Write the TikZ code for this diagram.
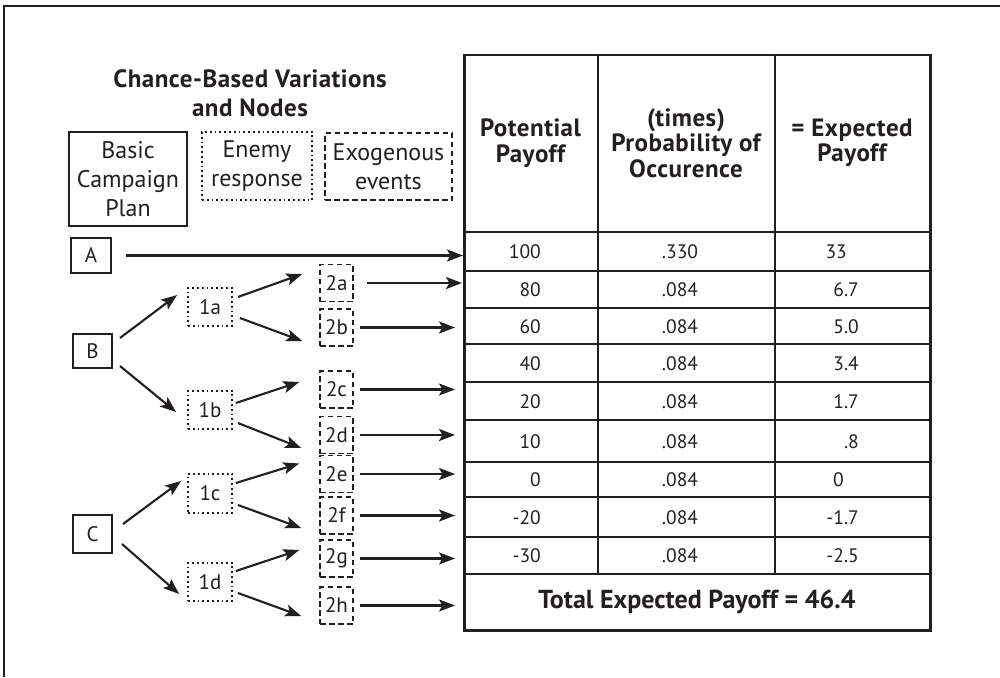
\documentclass[tikz,border=0pt]{standalone}
\usepackage{fontspec}
\setmainfont{PT Sans}
\usetikzlibrary{arrows.meta,calc}
\definecolor{ink}{HTML}{231F20}
\newcommand\bodyfnt{\fontsize{24}{29}\selectfont}
\newcommand\lblfnt{\fontsize{21}{24}\selectfont}
\newcommand\numfnt{\fontsize{19.5}{24}\selectfont}
\newcommand\hdrfnt{\fontsize{25}{25.5}\selectfont\bfseries\addfontfeatures{LetterSpace=2}}
\newcommand\ttlfnt{\fontsize{25}{29}\selectfont\bfseries\addfontfeatures{LetterSpace=2}}
\newcommand\totfnt{\fontsize{26}{30}\selectfont\bfseries}
\begin{document}
\begin{tikzpicture}[x=1pt,y=-1pt,
  every node/.style={text=ink, inner sep=0pt},
  solidbox/.style={draw=ink, line width=2pt},
  dotbox/.style={draw=ink, line width=1.8pt, dash pattern=on 1.8pt off 3pt},
  dashbox/.style={draw=ink, line width=1.6pt, dash pattern=on 5.5pt off 3.5pt},
  tbox/.style={font=\lblfnt},
  arr/.style={draw=ink, line width=2.1pt, -{Stealth[length=16pt,width=12pt,inset=3.5pt]}},
  tline/.style={draw=ink, line width=2.5pt},
  num/.style={font=\numfnt, text height=14pt, text depth=0pt},
  hdr/.style={font=\hdrfnt, align=center}]
\useasboundingbox (0,0) rectangle (1000,677);
% frame
\draw[ink, line width=2.2pt] (4,677) -- (4,6) -- (1000,6);
% title and legend
\node[font=\ttlfnt, align=center] (title) at (250,93) {Chance-Based Variations\\and Nodes};
\node[solidbox, minimum width=118pt, minimum height=94pt, font=\bodyfnt, align=center] (legA) at (128,179) {Basic\\Campaign\\Plan};
\node[dotbox, minimum width=110pt, minimum height=68pt, font=\bodyfnt, align=center] (legB) at (257,166) {Enemy\\response};
\node[dashbox, minimum width=127pt, minimum height=67pt, font=\bodyfnt, align=center] (legC) at (388.5,166.5) {Exogenous\\events};
% table
\node[tline, minimum width=466pt, minimum height=575pt, anchor=north west] (tbl) at (463,54) {};
\foreach \yy in {232,271,308,344,382,420,462,497,537,574}
  \draw[tline] (463,\yy) -- (929,\yy);
\draw[tline] (598,54) -- (598,574);
\draw[tline] (775,54) -- (775,574);
\node[hdr] (h1) at (530.5,143) {Potential\\Payoff};
\node[hdr] (h2) at (686,143) {(times)\\Probability of\\Occurence};
\node[hdr] (h3) at (852,143) {= Expected\\Payoff};
% rows
\foreach \yy/\pa/\pb [count=\i] in {251.5/100/.330, 289.5/80/.084, 326/60/.084, 363/40/.084, 401/20/.084, 441/10/.084, 479.5/0/.084, 517/-20/.084, 555.5/-30/.084}{
  \node[num, anchor=east] (pa\i) at (541,\yy) {\pa};
  \node[num] (pb\i) at (680,\yy) {\pb};
}
\node[num, anchor=east] (pc1) at (847,251.5) {33};
\node[num, anchor=east] (pc2) at (859,289.5) {6.7};
\node[num, anchor=east] (pc3) at (859,326) {5.0};
\node[num, anchor=east] (pc4) at (859,363) {3.4};
\node[num, anchor=east] (pc5) at (859,401) {1.7};
\node[num, anchor=east] (pc6) at (859,441) {.8};
\node[num, anchor=east] (pc7) at (844,479.5) {0};
\node[num, anchor=east] (pc8) at (859,517) {-1.7};
\node[num, anchor=east] (pc9) at (859,555.5) {-2.5};
\node[font=\totfnt] (tot) at (697,601.5) {Total Expected Payoff = 46.4};
% tree nodes
\node[solidbox, tbox, minimum width=40pt, minimum height=35pt] (A) at (91,255.5) {A};
\node[solidbox, tbox, minimum width=39pt, minimum height=34pt] (B) at (92.5,351) {B};
\node[solidbox, tbox, minimum width=39pt, minimum height=38pt] (C) at (92.5,534) {C};
\node[dotbox, tbox, minimum width=44pt, minimum height=38pt] (n1a) at (210,307) {1a};
\node[dotbox, tbox, minimum width=44pt, minimum height=38pt] (n1b) at (210,410) {1b};
\node[dotbox, tbox, minimum width=44pt, minimum height=39pt] (n1c) at (210,493.5) {1c};
\node[dotbox, tbox, minimum width=44pt, minimum height=38pt] (n1d) at (210,582) {1d};
\foreach \nm/\yy in {2a/283,2b/327.5,2c/389.5,2d/435,2e/474,2f/515.5,2g/558.5,2h/605.5}
  \node[dashbox, tbox, minimum width=33pt, minimum height=37pt] (n\nm) at (336.5,\yy) {\nm};
% arrows to table
\draw[arr, shorten <=14pt] (A.east) -- (A.east -| tbl.west);
\draw[arr, shorten <=13pt, shorten >=1pt] (n2a.east) -- (n2a.east -| tbl.west);
\foreach \nm in {2b,2c,2d,2e,2f,2g,2h}
  \draw[arr, shorten <=6pt, shorten >=8pt] (n\nm.east) -- (n\nm.east -| tbl.west);
% tree arrows
\draw[arr] ($(B.east)+(7,-13)$) -- ($(n1a.west)+(-10,-12)$);
\draw[arr] ($(B.east)+(7,15)$) -- ($(n1b.west)+(-11,2)$);
\draw[arr] ($(n1a.east)+(5,-10)$) -- ($(n2a.west)+(-17,-9)$);
\draw[arr] ($(n1a.east)+(7,11)$) -- ($(n2b.west)+(-17,13.5)$);
\draw[arr] ($(n1b.east)+(3,-7)$) -- ($(n2c.west)+(-20,-7.5)$);
\draw[arr] ($(n1b.east)+(5,13)$) -- ($(n2d.west)+(-18,13)$);
\draw[arr] ($(C.east)+(10,-10)$) -- ($(n1c.west)+(-6,-12.5)$);
\draw[arr] ($(C.east)+(9,10)$) -- ($(n1d.west)+(-8,12)$);
\draw[arr] ($(n1c.east)+(3,-10.5)$) -- ($(n2e.west)+(-20,-10.5)$);
\draw[arr] ($(n1c.east)+(5,11.5)$) -- ($(n2f.west)+(-18,12.5)$);
\draw[arr] ($(n1d.east)+(3,-11)$) -- ($(n2g.west)+(-20,-8.5)$);
\draw[arr] ($(n1d.east)+(5,11)$) -- ($(n2h.west)+(-18,10.5)$);
\end{tikzpicture}
\end{document}
